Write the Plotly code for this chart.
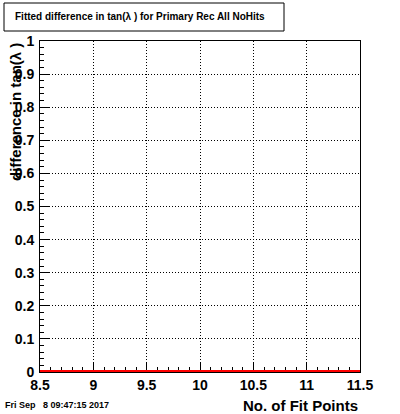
import plotly.graph_objects as go

# Data
bin_centers = [9, 10, 11]
bin_values = [0.0, 0.0, 0.0]
bin_width = 1.0

title_text = "Fitted difference in tan(\u03bb ) for Primary Rec All NoHits"
x_title = "No. of Fit Points"
y_title = "difference in tan(\u03bb )"
date_text = "Fri Sep\u00a0\u00a0 8 09:47:15 2017"

# step line built from histogram bins
xs, ys = [], []
for c, v in zip(bin_centers, bin_values):
    xs += [c - bin_width / 2, c + bin_width / 2]
    ys += [v, v]

FONT = "Liberation Sans, Arial, Helvetica, sans-serif"

fig = go.Figure()
fig.add_trace(go.Scatter(x=xs, y=ys, mode="lines", cliponaxis=False,
                         line=dict(color="red", width=4), showlegend=False,
                         hoverinfo="skip"))

W, H = 400, 414
L, R, T, B = 40, 40, 41, 42
pw, ph = W - L - R, H - T - B

def px(x):
    return (x - L) / pw

def py(y):
    return (H - B - y) / ph

fig.update_layout(
    width=W, height=H,
    margin=dict(l=L, r=R, t=T, b=B),
    paper_bgcolor="white", plot_bgcolor="white",
    font=dict(family=FONT, color="black"),
    hovermode=False,
    xaxis=dict(range=[8.5, 11.5], dtick=0.5, tick0=8.5,
               showline=True, mirror=True, linecolor="black", linewidth=1,
               ticks="inside", ticklen=10, tickcolor="black", tickwidth=1,
               minor=dict(dtick=0.1, ticks="inside", ticklen=5, tickcolor="black", showgrid=False),
               showgrid=True, gridcolor="black", griddash="1px,2px", gridwidth=1,
               zeroline=False, layer="below traces",
               tickfont=dict(size=14, family=FONT, weight="bold")),
    yaxis=dict(range=[0, 1], dtick=0.1, tick0=0,
               showline=True, mirror=True, linecolor="black", linewidth=1,
               ticks="inside", ticklen=9, tickcolor="black", tickwidth=1,
               minor=dict(dtick=0.02, ticks="inside", ticklen=4, tickcolor="black", showgrid=False),
               showgrid=True, gridcolor="black", griddash="1px,2px", gridwidth=1,
               zeroline=False, ticklabelstandoff=2, layer="below traces",
               tickfont=dict(size=14, family=FONT, weight="bold")),
    shapes=[dict(type="rect", xref="paper", yref="paper",
                 x0=px(4), x1=px(284), y0=py(31), y1=py(3),
                 line=dict(color="black", width=1), fillcolor="white")],
    annotations=[
        dict(text=title_text, xref="paper", yref="paper", x=px(140), y=py(17),
             xanchor="center", yanchor="middle", showarrow=False,
             font=dict(size=10, family=FONT, weight="bold")),
        dict(text=x_title, xref="paper", yref="paper", x=1, y=py(405),
             xanchor="right", yanchor="middle", showarrow=False,
             font=dict(size=15, family=FONT, weight="bold")),
        dict(text=y_title, xref="paper", yref="paper", x=px(15), y=1,
             xanchor="center", yanchor="top", textangle=-90, showarrow=False,
             font=dict(size=15, family=FONT, weight="bold")),
        dict(text=date_text, xref="paper", yref="paper", x=px(3), y=py(405),
             xanchor="left", yanchor="middle", showarrow=False,
             font=dict(size=9, family=FONT, weight="bold")),
    ],
)

fig.write_html("out.html", config={"displayModeBar": False},
               post_script="document.body.style.margin='0';document.body.style.padding='0';")
